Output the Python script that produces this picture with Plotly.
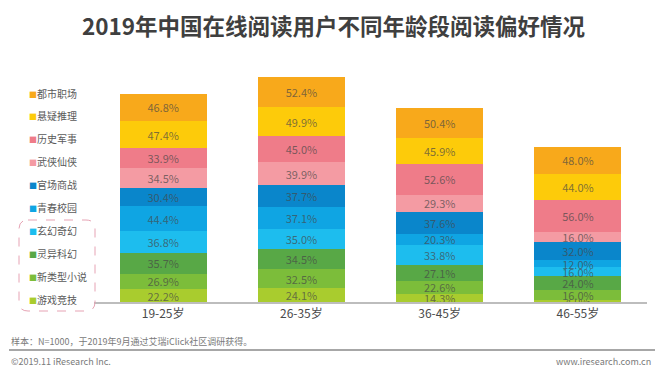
import plotly.graph_objects as go

categories = ["19-25岁", "26-35岁", "36-45岁", "46-55岁"]

# series listed bottom -> top of the stack
series_names = ["游戏竞技", "新类型小说", "灵异科幻", "玄幻奇幻", "青春校园",
                "官场商战", "武侠仙侠", "历史军事", "悬疑推理", "都市职场"]
series_colors = ["#A9CC2E", "#7CBD3A", "#58A846", "#1DBDEE", "#0FA5E3",
                 "#0A86CB", "#F49BA3", "#EF7C89", "#FDCB0A", "#F8A91B"]

youxi = [22.2, 24.1, 14.3, 4.0]
xinleixing = [26.9, 32.5, 22.6, 16.0]
lingyi = [35.7, 34.5, 27.1, 24.0]
xuanhuan = [36.8, 35.0, 33.8, 16.0]
qingchun = [44.4, 37.1, 20.3, 12.0]
guanchang = [30.4, 37.7, 37.6, 32.0]
wuxia = [34.5, 39.9, 29.3, 16.0]
lishi = [33.9, 45.0, 52.6, 56.0]
xuanyi = [47.4, 49.9, 45.9, 44.0]
dushi = [46.8, 52.4, 50.4, 48.0]

series_values = [youxi, xinleixing, lingyi, xuanhuan, qingchun,
                 guanchang, wuxia, lishi, xuanyi, dushi]

title_text = "2019年中国在线阅读用户不同年龄段阅读偏好情况"
note_text = "样本：N=1000，于2019年9月通过艾瑞iClick社区调研获得。"
copyright_text = "©2019.11 iResearch Inc."
site_text = "www.iresearch.com.cn"

FONT = "Noto Sans CJK SC, Noto Sans, sans-serif"
OFF = 8  # page body margin
W, H = 665 - OFF, 375 - OFF
ML, MT = 94 - OFF, 60 - OFF
MB = H - (302 - OFF)
MR = W - (647 - OFF)
PW, PH = W - ML - MR, H - MT - MB


def px(x):
    return (x - OFF - ML) / PW


def py(y):
    return (H - MB - (y - OFF)) / PH


fig = go.Figure()
for name, color, vals in zip(series_names, series_colors, series_values):
    fig.add_trace(go.Bar(
        x=categories, y=vals, name=name,
        marker=dict(color=color, line=dict(width=0)),
        text=[f"{v:.1f}%" for v in vals],
        textposition="inside", insidetextanchor="middle",
        textfont=dict(family=FONT, size=11, color="rgba(70,70,70,0.7)"),
        showlegend=False,
    ))

annotations = []
# legend (top of list = top of stack)
leg_top, leg_step = 93, 22.9
for i, (name, color) in enumerate(zip(reversed(series_names), reversed(series_colors))):
    yc = leg_top + i * leg_step
    annotations.append(dict(
        xref="paper", yref="paper", x=px(27), y=py(yc),
        xanchor="left", yanchor="middle", showarrow=False,
        text=f"<span style='color:{color};font-size:8px'>■</span>{name}",
        font=dict(family=FONT, size=10, color="#5a5a5a"),
    ))

annotations += [
    dict(xref="paper", yref="paper", x=px(334), y=py(25), xanchor="center", yanchor="middle",
         showarrow=False, text=f"<b>{title_text}</b>", borderpad=0,
         font=dict(family=FONT, size=22.5, color="#3f3f3f")),
    dict(xref="paper", yref="paper", x=px(9), y=py(341), xanchor="left", yanchor="middle",
         showarrow=False, text=note_text, font=dict(family=FONT, size=9, color="#7a7a7a")),
    dict(xref="paper", yref="paper", x=px(9), y=py(361), xanchor="left", yanchor="middle",
         showarrow=False, text=copyright_text, font=dict(family=FONT, size=9, color="#7a7a7a")),
    dict(xref="paper", yref="paper", x=px(653), y=py(361), xanchor="right", yanchor="middle",
         showarrow=False, text=site_text, font=dict(family=FONT, size=9, color="#7a7a7a")),
]

# dashed rounded box around last four legend items
x0, x1, y0, y1, r = 19, 95, 220, 311, 9
path = (f"M {px(x0 + r)} {py(y0)} L {px(x1 - r)} {py(y0)} "
        f"Q {px(x1)} {py(y0)} {px(x1)} {py(y0 + r)} L {px(x1)} {py(y1 - r)} "
        f"Q {px(x1)} {py(y1)} {px(x1 - r)} {py(y1)} L {px(x0 + r)} {py(y1)} "
        f"Q {px(x0)} {py(y1)} {px(x0)} {py(y1 - r)} L {px(x0)} {py(y0 + r)} "
        f"Q {px(x0)} {py(y0)} {px(x0 + r)} {py(y0)} Z")
shapes = [
    dict(type="path", xref="paper", yref="paper", path=path,
         line=dict(color="#E6A3B4", width=1, dash="dash")),
    dict(type="line", xref="paper", yref="paper", x0=px(9), x1=px(655), y0=py(350), y1=py(350),
         line=dict(color="#8a8a8a", width=1.5)),
]

fig.update_layout(
    width=W, height=H,
    margin=dict(l=ML, r=MR, t=MT, b=MB),
    barmode="stack", bargap=0.37,
    plot_bgcolor="white", paper_bgcolor="white",
    font=dict(family=FONT),
    xaxis=dict(showline=True, linecolor="#bdbdbd", linewidth=1.5, ticks="",
               tickfont=dict(family=FONT, size=12, color="#4a4a4a"), showgrid=False,
               fixedrange=True),
    yaxis=dict(range=[0, PH / 0.58], visible=False, showgrid=False, fixedrange=True),
    uniformtext=dict(minsize=11, mode="show"),
    annotations=annotations, shapes=shapes,
)

fig.write_html("out.html")
